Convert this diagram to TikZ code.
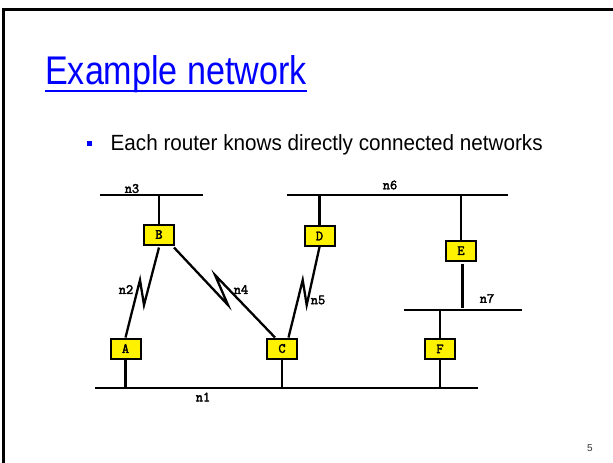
\documentclass[tikz,border=0pt]{standalone}
\usepackage{graphicx}
\usepackage{fontspec}
\setmainfont{Liberation Sans}
\newfontfamily\codefont[FakeBold=2.5]{Latin Modern Mono}
\usetikzlibrary{calc}

\begin{document}
\begin{tikzpicture}[x=1pt,y=-1pt,
  bus/.style={line width=2.3pt},
  link/.style={line width=2.3pt, line join=miter},
  stem/.style={line width=2.3pt},
  router/.style={draw, line width=2pt, fill=yellow, minimum width=30pt,
    minimum height=20pt, inner sep=0pt,
    font=\codefont\fontsize{14}{14}\selectfont},
  netlabel/.style={font=\codefont\fontsize{14}{14}\selectfont, inner sep=0pt},
]
\useasboundingbox (0,0) rectangle (613,463);
\fill[white] (0,0) rectangle (613,463);
% slide frame
\draw[line width=2.6pt] (3.3,480) -- (3.3,9.3) -- (630,9.3);

% title and bullet
\node[anchor=base west, inner sep=0pt, text=blue, font=\fontsize{40}{40}\selectfont]
  (title) at (45,84) {\resizebox{261.6pt}{\height}{Example network}};
\draw[blue, line width=2pt] ([yshift=-6.6pt]title.base west) -- ([yshift=-6.6pt]title.base east);
\fill[blue] (86.7,140.6) rectangle (92.2,146.3);
\node[anchor=base west, inner sep=0pt, font=\fontsize{22}{22}\selectfont]
  (bullet) at (110.5,150.4) {\resizebox{432pt}{\height}{Each router knows directly connected networks}};

% bus networks
\coordinate (n3w) at (100,195);   \coordinate (n3e) at (203,195);
\coordinate (n6w) at (286.7,195); \coordinate (n6e) at (508.3,195);
\coordinate (n7w) at (404,310);   \coordinate (n7e) at (521.7,310);
\coordinate (n1w) at (95,388);    \coordinate (n1e) at (478,388);
\draw[bus] (n3w) -- (n3e);
\draw[bus] (n6w) -- (n6e);
\draw[bus] (n7w) -- (n7e);
\draw[bus] (n1w) -- (n1e);

% routers
\node[router] (B) at (159,234.5) {B};
\node[router] (A) at (125.5,348.5) {A};
\node[router] (C) at (282,348.5) {C};
\node[router] (D) at (319.5,236) {D};
\node[router] (E) at (461,250.7) {E};
\node[router] (F) at (440,348.8) {F};

% router attachments to the buses
\draw[stem] (B.north) -- (B.north |- n3w);
\draw[stem] (A.south) -- (A.south |- n1w);
\draw[stem] (C.south) -- (C.south |- n1w);
\draw[stem] (D.north) -- (D.north |- n6w);
\draw[stem] (E.north) -- (E.north |- n6w);
\draw[stem, shorten <=2pt, shorten >=2.5pt] ([xshift=1.5pt]E.south) -- ([xshift=1.5pt]E.south |- n7w);
\draw[stem] (F.north) -- (F.north |- n7w);
\draw[stem] (F.south) -- (F.south |- n1w);

% serial point-to-point links
\draw[link] ([yshift=-2pt]B.south) -- (144,305) -- (140,280) -- (A.north);
\draw[link] ([shift={(-1pt,-2pt)}]B.south east) -- (228,305) -- (215,275) -- ([xshift=-7pt]C.north);
\draw[link] (D.south) -- (306.7,305) -- (302.7,280) -- ([xshift=6.5pt]C.north);

% network labels
\node[netlabel] (l3) at (132,188.5) {n3};
\node[netlabel] (l6) at (390,185) {n6};
\node[netlabel] (l7) at (487,298.5) {n7};
\node[netlabel] (l1) at (203,397) {n1};
\node[netlabel] (l2) at (126,289.5) {n2};
\node[netlabel] (l4) at (241,289.5) {n4};
\node[netlabel] (l5) at (318,300) {n5};

% page number
\node[inner sep=0pt, text=black!80, font=\fontsize{10}{10}\selectfont] (page) at (590,448.3) {5};
\end{tikzpicture}
\end{document}
